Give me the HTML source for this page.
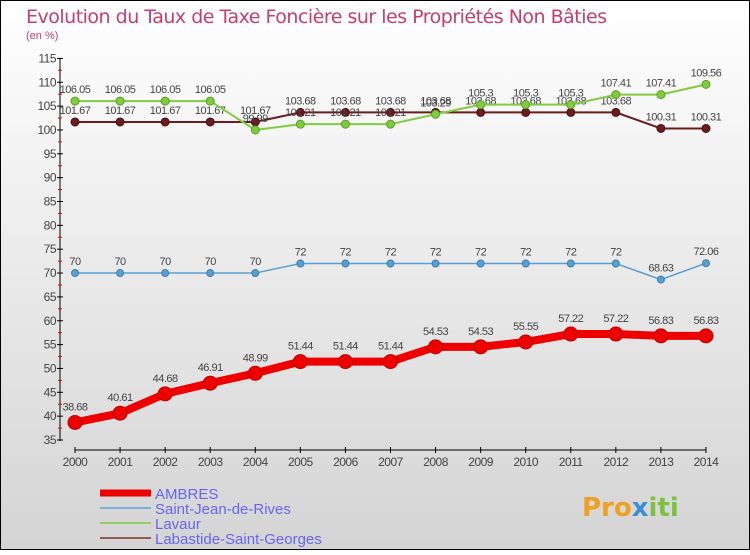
<!DOCTYPE html>
<html><head><meta charset="utf-8"><style>
body{margin:0}
#c{width:750px;height:550px;position:relative;font-family:"Liberation Sans",sans-serif}
</style></head><body>
<div id="c">
<svg width="750" height="550" xmlns="http://www.w3.org/2000/svg" id="svg">
<defs><linearGradient id="bg" x1="0" y1="0" x2="0" y2="1"><stop offset="0" stop-color="#ffffff"/><stop offset="1" stop-color="#d4d4d4"/></linearGradient></defs>
<rect x="0.5" y="0.5" width="749" height="549" fill="url(#bg)" stroke="#000"/>
<text x="26" y="23" font-size="19" fill="#c83c6e" style="font-family:'DejaVu Sans',sans-serif;letter-spacing:-0.5px">Evolution du Taux de Taxe Foncière sur les Propriétés Non Bâties</text>
<text x="26" y="39" font-size="11" fill="#c83c6e">(en %)</text>
<g id="axes"></g>
<g id="series"></g>
<g id="legend" font-size="15" fill="#6666ee" style="font-family:'Liberation Sans',sans-serif"></g>
<text x="582" y="516" font-size="26" font-weight="bold" fill="#f0a020" style="font-family:'DejaVu Sans',sans-serif">Pro<tspan fill="#3a8ed8">x</tspan><tspan fill="#80c040">iti</tspan></text>
</svg>
</div>
<script>
const years=["2000","2001","2002","2003","2004","2005","2006","2007","2008","2009","2010","2011","2012","2013","2014"];
const yTicks=[35,40,45,50,55,60,65,70,75,80,85,90,95,100,105,110,115];
const ambres=[38.68,40.61,44.68,46.91,48.99,51.44,51.44,51.44,54.53,54.53,55.55,57.22,57.22,56.83,56.83];
const stJean=[70,70,70,70,70,72,72,72,72,72,72,72,72,68.63,72.06];
const lavaur=[106.05,106.05,106.05,106.05,99.99,101.21,101.21,101.21,103.29,105.3,105.3,105.3,107.41,107.41,109.56];
const labastide=[101.67,101.67,101.67,101.67,101.67,103.68,103.68,103.68,103.68,103.68,103.68,103.68,103.68,100.31,100.31];
const NS="http://www.w3.org/2000/svg";
const X=i=>75+i*45.07, Y=v=>440-(v-35)*4.77;
function mk(t,a,p){const e=document.createElementNS(NS,t);for(const k in a)e.setAttribute(k,a[k]);p.appendChild(e);return e;}
const ax=document.getElementById('axes');
let l=mk('line',{x1:60,y1:58,x2:60,y2:441,stroke:'#000'},ax);

yTicks.forEach(v=>{mk('line',{x1:57,x2:63,y1:Y(v),y2:Y(v),stroke:'#000'},ax);
 if(v<115)mk('line',{x1:58,x2:62,y1:Y(v+2.5),y2:Y(v+2.5),stroke:'#e00'},ax);
 const t=mk('text',{x:56,y:Y(v)+4,'font-size':12,'text-anchor':'end',fill:'#444','letter-spacing':'-0.5'},ax);
 t.textContent=v;});
l=mk('line',{x1:75,y1:450,x2:706,y2:450,stroke:'#000'},ax);

years.forEach((y,i)=>{mk('line',{x1:X(i),x2:X(i),y1:447,y2:453,stroke:'#000'},ax);
 const t=mk('text',{x:X(i),y:466,'font-size':12,'text-anchor':'middle',fill:'#444','letter-spacing':'-0.5'},ax);
 t.textContent=y;});
const sg=document.getElementById('series');
function series(d,name,col,dot,w,r,lblOff){
 const g=mk('g',{},sg);
 mk('polyline',{points:d.map((v,i)=>X(i)+','+Y(v)).join(' '),fill:'none',stroke:col,'stroke-width':w},g);
 d.forEach((v,i)=>{const c=mk('circle',{cx:X(i),cy:Y(v),r:r,fill:col,stroke:dot,'stroke-width':1},g);
  
  const t=mk('text',{x:X(i),y:Y(v)-lblOff,'font-size':11,'text-anchor':'middle',fill:'#444','letter-spacing':'-0.5'},g);
  t.textContent=v;});
}
series(labastide,'labastide-series','#6b1c1c','#4a1010',2,4,8);
series(lavaur,'lavaur-series','#80cc40','#5aa020',2,4,8);
series(stJean,'saint-jean-series','#5a9fd0','#3a7fb0',1.5,3.5,8);
series(ambres,'ambres-series','#ee0000','#c00000',8,7,12);
const lg=document.getElementById('legend');
const ln=[["AMBRES","#ee0000",7],["Saint-Jean-de-Rives","#7ab0d8",2],["Lavaur","#90d060",2],["Labastide-Saint-Georges","#8e5a5a",2]];
ln.forEach((e,i)=>{const y=493+i*15;
 const g=mk('g',{},lg);
 mk('line',{x1:100,x2:151,y1:y,y2:y,stroke:e[1],'stroke-width':e[2]},g);
 const t=mk('text',{x:155,y:y+6},g);t.textContent=e[0];});
</script>
</body></html>
